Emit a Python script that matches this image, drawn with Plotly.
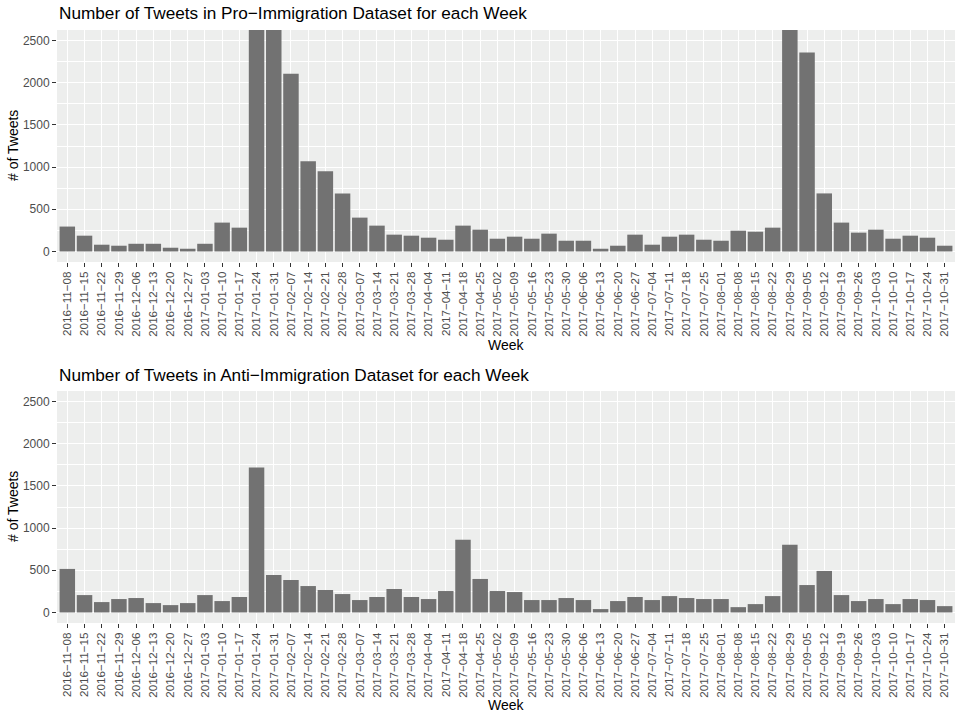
import plotly.graph_objects as go

# Weekly buckets (week start dates)
weeks = [
    "2016-11-08", "2016-11-15", "2016-11-22", "2016-11-29", "2016-12-06", "2016-12-13",
    "2016-12-20", "2016-12-27", "2017-01-03", "2017-01-10", "2017-01-17", "2017-01-24",
    "2017-01-31", "2017-02-07", "2017-02-14", "2017-02-21", "2017-02-28", "2017-03-07",
    "2017-03-14", "2017-03-21", "2017-03-28", "2017-04-04", "2017-04-11", "2017-04-18",
    "2017-04-25", "2017-05-02", "2017-05-09", "2017-05-16", "2017-05-23", "2017-05-30",
    "2017-06-06", "2017-06-13", "2017-06-20", "2017-06-27", "2017-07-04", "2017-07-11",
    "2017-07-18", "2017-07-25", "2017-08-01", "2017-08-08", "2017-08-15", "2017-08-22",
    "2017-08-29", "2017-09-05", "2017-09-12", "2017-09-19", "2017-09-26", "2017-10-03",
    "2017-10-10", "2017-10-17", "2017-10-24", "2017-10-31",
]

# Tweet counts per week
pro_counts = [
    295, 187, 80, 68, 91, 91, 44, 32, 91, 342, 282, 3400,
    3200, 2107, 1069, 950, 688, 401, 306, 199, 187, 163, 139, 306,
    258, 151, 175, 151, 211, 127, 127, 32, 68, 199, 80, 175,
    199, 139, 127, 246, 234, 282, 3900, 2357, 688, 342, 223, 258,
    151, 187, 163, 68,
]
anti_counts = [
    516, 206, 123, 159, 171, 111, 87, 111, 206, 135, 183, 1718,
    444, 385, 313, 266, 218, 147, 183, 278, 183, 159, 254, 861,
    397, 254, 242, 147, 147, 171, 147, 40, 135, 183, 147, 194,
    171, 159, 159, 63, 99, 194, 802, 325, 492, 206, 135, 159,
    99, 159, 147, 75,
]

y_ticks = [0, 500, 1000, 1500, 2000, 2500]

W, H = 957, 714
BAR = "#727272"
PANEL = "#EDEEED"
TXT = "#4D4D4D"
FONT = "Liberation Sans, Arial, Helvetica, sans-serif"

def fy(px):
    return 1 - px / H

panels = [
    ("Number of Tweets in Pro\u2212Immigration Dataset for each Week", pro_counts, 30, 262, 12.5, 345),
    ("Number of Tweets in Anti\u2212Immigration Dataset for each Week", anti_counts, 391, 623, 375, 705),
]

fig = go.Figure()
annotations = []
tick_text = [w.replace("-", "\u2212") for w in weeks]

for i, (title, vals, top, bot, title_y, xlab_y) in enumerate(panels, start=1):
    xa = "x" if i == 1 else f"x{i}"
    ya = "y" if i == 1 else f"y{i}"
    fig.add_trace(go.Bar(
        x=weeks, y=vals, xaxis=xa, yaxis=ya,
        marker=dict(color=BAR, line=dict(width=0)),
        width=0.9, showlegend=False,
    ))
    xkey = "xaxis" if i == 1 else f"xaxis{i}"
    ykey = "yaxis" if i == 1 else f"yaxis{i}"
    fig.layout[xkey] = dict(
        domain=[0, 1], anchor=ya, type="category",
        range=[-0.6, len(weeks) - 0.4],
        tickmode="array", tickvals=weeks, ticktext=tick_text,
        tickangle=-90, ticks="outside", ticklen=4, tickwidth=1.1,
        tickcolor="#333333", showgrid=True, gridcolor="white", gridwidth=1.1,
        tickfont=dict(family=FONT, size=11.6, color=TXT),
        zeroline=False, showline=False, fixedrange=True,
    )
    fig.layout[ykey] = dict(
        domain=[fy(bot), fy(top)], anchor=xa,
        range=[-125, 2625], tickmode="array", tickvals=y_ticks,
        ticks="outside", ticklen=4, tickwidth=1.1, tickcolor="#333333",
        showgrid=True, gridcolor="white", gridwidth=1.1,
        minor=dict(tickmode="array", tickvals=[250, 750, 1250, 1750, 2250],
                   showgrid=True, gridcolor="white", gridwidth=0.55, ticks=""),
        tickfont=dict(family=FONT, size=12, color=TXT),
        zeroline=False, showline=False, fixedrange=True,
    )
    annotations.append(dict(
        text=title, xref="paper", yref="paper", x=0, y=fy(title_y),
        xanchor="left", yanchor="middle", showarrow=False,
        font=dict(family=FONT, size=17.2, color="black"),
    ))
    annotations.append(dict(
        text="Week", xref="paper", yref="paper", x=0.5, y=fy(xlab_y),
        xanchor="center", yanchor="middle", showarrow=False,
        font=dict(family=FONT, size=14, color="black"),
    ))
    annotations.append(dict(
        text="# of Tweets", xref="paper", yref="paper", x=-44 / 898, y=fy((top + bot) / 2),
        xanchor="center", yanchor="middle", textangle=-90, showarrow=False,
        font=dict(family=FONT, size=14, color="black"),
    ))
    # panel background
    fig.add_shape(type="rect", xref="paper", yref="paper", x0=0, x1=1,
                  y0=fy(bot), y1=fy(top), fillcolor=PANEL, line=dict(width=0),
                  layer="below")

fig.update_layout(
    width=W, height=H,
    margin=dict(l=57, r=2, t=0, b=0),
    paper_bgcolor="white", plot_bgcolor=PANEL,
    bargap=0.1, annotations=annotations,
    font=dict(family=FONT),
)

fig.write_html("out.html", config={"displayModeBar": False})
